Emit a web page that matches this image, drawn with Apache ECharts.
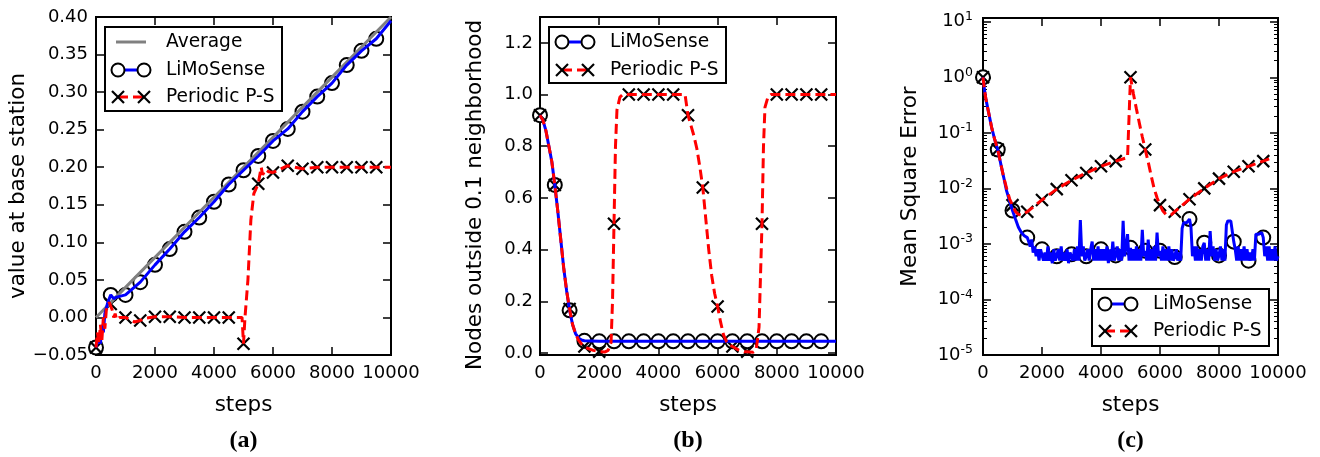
<!DOCTYPE html>
<html lang="en">
<head>
    <meta charset="UTF-8">
    <title>LiMoSense vs Periodic P-S</title>
    <script src="https://cdn.jsdelivr.net/npm/echarts@6/dist/echarts.min.js"></script>
</head>
<body style="margin:0;background:#fff">
<div id="myChart" style="width: 1320px;height: 457px;"></div>
<script>
    // (a) value at base station
    var stepsAvgA = [0, 1000, 2000, 3000, 4000, 5000, 6000, 7000, 8000, 9000, 10000];
    var avgA = [0, 0.04, 0.08, 0.12, 0.16, 0.20, 0.24, 0.28, 0.32, 0.36, 0.40];

    var stepsLmA = [0, 100, 150, 200, 250, 300, 400, 500, 600, 700, 800, 1000, 1500, 2000, 2500, 3000,
        3500, 4000, 4500, 5000, 5500, 6000, 6500, 7000, 7500, 8000, 8500, 9000, 9500, 10000];
    var lmA = [-0.04, -0.025, -0.035, -0.01, -0.02, 0.005, 0.02, 0.03, 0.025, 0.027, 0.028, 0.03, 0.047, 0.07, 0.091, 0.114,
        0.133, 0.154, 0.177, 0.196, 0.215, 0.235, 0.251, 0.274, 0.294, 0.312, 0.336, 0.355, 0.371, 0.395];

    var stepsPsA = [0, 50, 100, 150, 200, 250, 300, 350, 400, 450,
        500, 550, 600, 650, 700, 800, 1000, 1200, 1300, 1500,
        1700, 2000, 2500, 3000, 3500, 4000, 4500, 4950, 5000, 5050,
        5150, 5250, 5350, 5500, 5600, 5650, 5750, 5850, 6000, 6500,
        7000, 7500, 8000, 8500, 9000, 9500, 10000];
    var psA = [-0.04, -0.02, -0.035, -0.01, -0.03, 0.0, -0.015, 0.01, 0.015, 0.02,
        0.018, 0.01, 0.0, 0.005, -0.003, 0.0, 0.0, -0.004, -0.006, -0.004,
        -0.001, 0.001, 0.001, 0.0, 0.0, 0.0, 0.0, 0.0, -0.035, 0.0,
        0.05, 0.13, 0.165, 0.178, 0.2, 0.19, 0.197, 0.194, 0.193, 0.202,
        0.198, 0.2, 0.2, 0.2, 0.2, 0.2, 0.2];

    // (b) nodes outside 0.1 neighborhood
    var stepsLmB = [0, 100, 200, 300, 400, 500, 600, 700, 800, 900, 1000, 1100, 1200, 1300, 1400, 1500,
        2000, 2500, 3000, 3500, 4000, 4500, 5000, 5500, 6000, 6500, 7000, 7500, 8000, 8500, 9000, 9500, 10000];
    var lmB = [0.92, 0.9, 0.86, 0.8, 0.74, 0.65, 0.55, 0.44, 0.33, 0.24, 0.165, 0.11, 0.075, 0.058, 0.05, 0.047,
        0.045, 0.045, 0.045, 0.045, 0.045, 0.045, 0.045, 0.045, 0.045, 0.045, 0.045, 0.045, 0.045, 0.045, 0.045, 0.045, 0.045];

    var stepsPsB = [0, 100, 200, 300, 400, 500, 600, 700, 800, 900, 1000, 1100, 1200, 1300, 1400,
        1500, 1600, 1800, 2000, 2200, 2300, 2400, 2450, 2500, 2550,
        2600, 2700, 2800, 3000, 3500, 4000, 4500, 4900, 4950, 5000,
        5200, 5300, 5400, 5500, 5600, 5700, 5800, 5900, 6000, 6100,
        6200, 6300, 6400, 6500, 6700, 6900, 7000, 7200, 7300, 7400,
        7450, 7500, 7550, 7600, 7700, 7800, 8000, 8500, 9000, 9500,
        10000];
    var psB = [0.92, 0.9, 0.86, 0.8, 0.74, 0.65, 0.55, 0.44, 0.33, 0.24, 0.17, 0.11, 0.075, 0.05, 0.035,
        0.025, 0.018, 0.01, 0.005, 0.004, 0.01, 0.04, 0.2, 0.5, 0.8,
        0.94, 0.99, 1.0, 1.0, 1.0, 1.0, 1.0, 1.0, 0.96, 0.92,
        0.84, 0.79, 0.72, 0.64, 0.52, 0.4, 0.3, 0.23, 0.18, 0.12,
        0.07, 0.045, 0.03, 0.025, 0.012, 0.005, 0.005, 0.003, 0.01, 0.1,
        0.3, 0.5, 0.8, 0.95, 0.99, 1.0, 1.0, 1.0, 1.0, 1.0,
        1.0];

    // (c) mean square error (log)
    var stepsLmC = [0, 50, 100, 200, 300, 400, 500, 600, 700, 800, 900, 1000, 1100, 1200, 1300, 1400,
        1500, 1550, 1600, 1650, 1700, 1750, 1800, 1850, 1900, 1950,
        2000, 2050, 2100, 2150, 2200, 2250, 2300, 2350, 2400, 2450,
        2500, 2550, 2600, 2650, 2700, 2750, 2800, 2850, 2900, 2950,
        3000, 3050, 3100, 3150, 3200, 3250, 3300, 3350, 3400, 3450,
        3500, 3550, 3600, 3650, 3700, 3750, 3800, 3850, 3900, 3950,
        4000, 4050, 4100, 4150, 4200, 4250, 4300, 4350, 4400, 4450,
        4500, 4550, 4600, 4650, 4700, 4750, 4800, 4850, 4900, 4950,
        5000, 5050, 5100, 5150, 5200, 5250, 5300, 5350, 5400, 5450,
        5500, 5550, 5600, 5650, 5700, 5750, 5800, 5850, 5900, 5950,
        6000, 6050, 6100, 6150, 6200, 6250, 6300, 6350, 6400, 6450,
        6500, 6550, 6600, 6650, 6700, 6750, 6800, 6850, 6900, 6950,
        7000, 7050, 7100, 7150, 7200, 7250, 7300, 7350, 7400, 7450,
        7500, 7550, 7600, 7650, 7700, 7750, 7800, 7850, 7900, 7950,
        8000, 8050, 8100, 8150, 8200, 8250, 8300, 8350, 8400, 8450,
        8500, 8550, 8600, 8650, 8700, 8750, 8800, 8850, 8900, 8950,
        9000, 9050, 9100, 9150, 9200, 9250, 9300, 9350, 9400, 9450,
        9500, 9550, 9600, 9650, 9700, 9750, 9800, 9850, 9900, 9950,
        10000];
    var lmC = [1.0, 0.6, 0.4, 0.22, 0.12, 0.075, 0.05, 0.028, 0.016, 0.009, 0.006, 0.004, 0.0028, 0.002, 0.0016, 0.0014,
        0.0013, 0.0011, 0.0009, 0.0012, 0.0007, 0.0009, 0.0006, 0.0008, 0.0005, 0.0008,
        0.0008, 0.0005, 0.0007, 0.0005, 0.0009, 0.0005, 0.0007, 0.00045, 0.0008, 0.0005,
        0.0006, 0.0008, 0.0005, 0.0009, 0.0005, 0.0007, 0.0005, 0.0008, 0.00045, 0.0007,
        0.00065, 0.0005, 0.0008, 0.0005, 0.0009, 0.0005, 0.0027, 0.0006, 0.0009, 0.0005,
        0.0006, 0.0008, 0.0005, 0.0008, 0.0011, 0.0005, 0.0008, 0.0005, 0.0009, 0.0005,
        0.0008, 0.0005, 0.0008, 0.0005, 0.0009, 0.00045, 0.0008, 0.0005, 0.0011, 0.0005,
        0.00062, 0.0009, 0.0005, 0.0008, 0.0005, 0.0026, 0.0006, 0.0009, 0.0015, 0.0005,
        0.00085, 0.0005, 0.0008, 0.0005, 0.0009, 0.0005, 0.0008, 0.0005, 0.0018, 0.0006,
        0.00075, 0.0005, 0.0012, 0.0005, 0.0008, 0.0005, 0.0009, 0.0005, 0.0016, 0.0006,
        0.00075, 0.0005, 0.0009, 0.0005, 0.0008, 0.0005, 0.0009, 0.0005, 0.0008, 0.0005,
        0.00058, 0.0008, 0.0005, 0.0007, 0.0005, 0.0019, 0.0024, 0.0025, 0.0024, 0.0026,
        0.0028, 0.002, 0.0006, 0.0009, 0.0005, 0.0009, 0.0005, 0.0008, 0.0005, 0.0009,
        0.00105, 0.0005, 0.0008, 0.0005, 0.0017, 0.0006, 0.0009, 0.0005, 0.0008, 0.0005,
        0.00062, 0.0009, 0.0005, 0.0008, 0.0005, 0.0022, 0.0026, 0.0025, 0.0026, 0.0024,
        0.0011, 0.0008, 0.0005, 0.0009, 0.0005, 0.0008, 0.0005, 0.0009, 0.0005, 0.0008,
        0.0005, 0.0007, 0.0005, 0.0008, 0.0005, 0.0015, 0.0016, 0.0015, 0.0014, 0.0016,
        0.0013, 0.0006, 0.0009, 0.0005, 0.0009, 0.0005, 0.0008, 0.0005, 0.0009, 0.0005,
        0.0006];

    var stepsPsC = [0, 50, 100, 200, 300, 400, 500, 600, 700, 800, 900, 1000, 1100, 1200, 1300,
        1500, 2000, 2500, 3000, 3500, 4000, 4500, 4900, 4950, 5000,
        5100, 5200, 5300, 5400, 5500, 5600, 5700, 5800, 5900, 6000,
        6100, 6200, 6300, 6400, 6500, 7000, 7500, 8000, 8500, 9000,
        9500, 9700];
    var psC = [1.0, 0.6, 0.4, 0.22, 0.12, 0.075, 0.05, 0.028, 0.016, 0.01, 0.0065, 0.005, 0.0038, 0.0034, 0.0033,
        0.0038, 0.0062, 0.0097, 0.014, 0.019, 0.025, 0.031, 0.036, 0.038, 1.0,
        0.5, 0.27, 0.15, 0.085, 0.05, 0.03, 0.017, 0.01, 0.0068, 0.005,
        0.0039, 0.0034, 0.0033, 0.0034, 0.0038, 0.0064, 0.01, 0.015, 0.02, 0.025,
        0.031, 0.034];

    var ticksB = [0, 0.2, 0.4, 0.6, 0.8, 1.0, 1.2];
    var ticksC = [1e-5, 1e-4, 1e-3, 1e-2, 1e-1, 1, 10];

    var FONT = 'DejaVu Sans';
    var myChart = echarts.init(document.getElementById('myChart'));

    function pairs(xs, ys) {
        return xs.map(function (x, i) { return [x, ys[i]]; });
    }
    // markers every 500 steps, like markevery
    function marks(xs, ys) {
        return pairs(xs, ys).filter(function (p) { return p[0] % 500 === 0 && p[0] < 10000; });
    }

    var minorC = [];
    for (var e = -5; e <= 0; e++) {
        for (var m = 2; m <= 9; m++) minorC.push(+(m * Math.pow(10, e)).toPrecision(3));
    }

    var grids = [
        {left: 96, top: 17, width: 295, height: 338},
        {left: 540, top: 17, width: 296, height: 338},
        {left: 983, top: 18, width: 295, height: 337}
    ];
    grids.forEach(function (g) {
        g.show = true;
        g.borderColor = '#000';
        g.borderWidth = 2;
        g.backgroundColor = 'transparent';
    });

    var noLine = {show: false, onZero: false};
    var tickStyle = {show: true, inside: true, length: 8, lineStyle: {color: '#000', width: 1.5}};
    var labelStyle = {color: '#000', fontSize: 18, fontFamily: FONT};
    var nameStyle = {color: '#000', fontSize: 21.5, fontFamily: FONT};

    var xAxes = [];
    [0, 1, 2].forEach(function (i) {
        xAxes.push({
            gridIndex: i, type: 'value', position: 'bottom', min: 0, max: 10000, interval: 2000,
            axisLine: noLine, axisTick: tickStyle, splitLine: {show: false},
            axisLabel: Object.assign({margin: 9, formatter: function (v) { return String(v); }}, labelStyle),
            name: 'steps', nameLocation: 'middle', nameGap: 39, nameTextStyle: nameStyle
        });
        xAxes.push({
            gridIndex: i, type: 'value', position: 'top', min: 0, max: 10000, interval: 2000,
            axisLine: noLine, axisTick: tickStyle, splitLine: {show: false}, axisLabel: {show: false}
        });
    });

    var yAxes = [
        {
            gridIndex: 0, type: 'value', position: 'left', min: -0.05, max: 0.4, interval: 0.05,
            axisLine: noLine, axisTick: tickStyle, splitLine: {show: false},
            axisLabel: Object.assign({margin: 8, formatter: function (v) { return v.toFixed(2).replace('-', '\u2212'); }}, labelStyle),
            name: 'value at base station', nameLocation: 'middle', nameGap: 63, nameTextStyle: nameStyle
        },
        {
            gridIndex: 0, type: 'value', position: 'right', min: -0.05, max: 0.4, interval: 0.05,
            axisLine: noLine, axisTick: tickStyle, splitLine: {show: false}, axisLabel: {show: false}
        },
        {
            gridIndex: 1, type: 'value', position: 'left', min: -0.008, max: 1.3,
            axisLine: noLine, axisTick: Object.assign({customValues: ticksB}, tickStyle), splitLine: {show: false},
            axisLabel: Object.assign({margin: 7, customValues: ticksB, formatter: function (v) { return v.toFixed(1); }}, labelStyle),
            name: 'Nodes outside 0.1 neighborhood', nameLocation: 'middle', nameGap: 54,
            nameTextStyle: Object.assign({padding: [0, 18, 0, 0]}, nameStyle)
        },
        {
            gridIndex: 1, type: 'value', position: 'right', min: -0.008, max: 1.3,
            axisLine: noLine, axisTick: Object.assign({customValues: ticksB}, tickStyle), splitLine: {show: false},
            axisLabel: {show: false}
        },
        {
            gridIndex: 2, type: 'log', logBase: 10, position: 'left', min: 1e-5, max: 11.7,
            axisLine: noLine, axisTick: Object.assign({customValues: ticksC}, tickStyle), splitLine: {show: false},
            axisLabel: Object.assign({
                margin: 10, customValues: ticksC,
                formatter: function (v) { return '{b|10}{s|' + Math.round(Math.log10(v)) + '}'; },
                rich: {
                    b: {fontSize: 18, fontFamily: FONT, color: '#000'},
                    s: {fontSize: 12.5, fontFamily: FONT, color: '#000', padding: [0, 0, 10, 0]}
                }
            }, labelStyle),
            name: 'Mean Square Error', nameLocation: 'middle', nameGap: 62, nameTextStyle: nameStyle
        },
        {
            gridIndex: 2, type: 'log', logBase: 10, position: 'left', offset: 0, min: 1e-5, max: 11.7,
            axisLine: noLine, splitLine: {show: false}, axisLabel: {show: false},
            axisTick: {show: true, inside: true, length: 4, customValues: minorC, lineStyle: {color: '#000', width: 1}}
        },
        {
            gridIndex: 2, type: 'log', logBase: 10, position: 'right', min: 1e-5, max: 11.7,
            axisLine: noLine, axisTick: Object.assign({customValues: ticksC}, tickStyle), splitLine: {show: false},
            axisLabel: {show: false}
        },
        {
            gridIndex: 2, type: 'log', logBase: 10, position: 'right', offset: 0, min: 1e-5, max: 11.7,
            axisLine: noLine, splitLine: {show: false}, axisLabel: {show: false},
            axisTick: {show: true, inside: true, length: 4, customValues: minorC, lineStyle: {color: '#000', width: 1}}
        }
    ];

    var CROSS = 'path://M0,0L10,10M10,0L0,10';

    function lineSeries(xi, yi, data, color, dashed, width) {
        return {
            type: 'line', xAxisIndex: xi, yAxisIndex: yi, data: data, showSymbol: false,
            lineStyle: {color: color, width: width || 3, type: dashed ? [10, 5] : 'solid'},
            silent: true
        };
    }
    function circleSeries(xi, yi, data) {
        return {
            type: 'scatter', xAxisIndex: xi, yAxisIndex: yi, data: data, symbol: 'circle', symbolSize: 14,
            itemStyle: {color: '#fff', borderColor: '#000', borderWidth: 2, opacity: 1}, silent: true
        };
    }
    function crossSeries(xi, yi, data) {
        return {
            type: 'scatter', xAxisIndex: xi, yAxisIndex: yi, data: data, symbol: CROSS, symbolSize: 12,
            itemStyle: {color: 'none', borderColor: '#000', borderWidth: 2.2, opacity: 1}, silent: true
        };
    }

    var series = [
        lineSeries(0, 0, pairs(stepsAvgA, avgA), '#808080', false, 3),
        lineSeries(0, 0, pairs(stepsLmA, lmA), '#0000ff', false),
        circleSeries(0, 0, marks(stepsLmA, lmA)),
        lineSeries(0, 0, pairs(stepsPsA, psA), '#ff0000', true),
        crossSeries(0, 0, marks(stepsPsA, psA)),

        lineSeries(2, 2, pairs(stepsLmB, lmB), '#0000ff', false),
        circleSeries(2, 2, marks(stepsLmB, lmB)),
        lineSeries(2, 2, pairs(stepsPsB, psB), '#ff0000', true),
        crossSeries(2, 2, marks(stepsPsB, psB)),

        lineSeries(4, 4, pairs(stepsLmC, lmC), '#0000ff', false),
        circleSeries(4, 4, marks(stepsLmC, lmC)),
        lineSeries(4, 4, pairs(stepsPsC, psC), '#ff0000', true),
        crossSeries(4, 4, marks(stepsPsC, psC))
    ];

    // matplotlib style legend boxes, two markers per entry
    function legendBox(x, y, w, h, rows) {
        var els = [{type: 'rect', shape: {x: x, y: y, width: w, height: h},
            style: {fill: '#fff', stroke: '#000', lineWidth: 2}, z: 100}];
        rows.forEach(function (r) {
            var x1 = x + 13, x2 = x + 39;
            if (r.kind === 'avg') {
                els.push({type: 'line', shape: {x1: x + 11, y1: r.y, x2: x + 41, y2: r.y},
                    style: {stroke: '#808080', lineWidth: 3}, z: 101});
            } else {
                els.push({type: 'line', shape: {x1: x1, y1: r.y, x2: x2, y2: r.y},
                    style: {stroke: r.kind === 'lm' ? '#0000ff' : '#ff0000', lineWidth: 3,
                        lineDash: r.kind === 'lm' ? null : [10, 5]}, z: 101});
                [x1, x2].forEach(function (cx) {
                    if (r.kind === 'lm') {
                        els.push({type: 'circle', shape: {cx: cx, cy: r.y, r: 6.5},
                            style: {fill: '#fff', stroke: '#000', lineWidth: 2}, z: 102});
                    } else {
                        els.push({type: 'line', shape: {x1: cx - 6, y1: r.y - 6, x2: cx + 6, y2: r.y + 6},
                            style: {stroke: '#000', lineWidth: 2.2}, z: 102});
                        els.push({type: 'line', shape: {x1: cx - 6, y1: r.y + 6, x2: cx + 6, y2: r.y - 6},
                            style: {stroke: '#000', lineWidth: 2.2}, z: 102});
                    }
                });
            }
            els.push({type: 'text', x: x + 61, y: r.y, z: 102,
                style: {text: r.label, font: '18.6px "DejaVu Sans"', fill: '#000', verticalAlign: 'middle'}});
        });
        return els;
    }

    var graphics = []
        .concat(legendBox(105, 27, 177, 84, [
            {kind: 'avg', label: 'Average', y: 42},
            {kind: 'lm', label: 'LiMoSense', y: 70},
            {kind: 'ps', label: 'Periodic P-S', y: 97}
        ]))
        .concat(legendBox(549, 27, 177, 56, [
            {kind: 'lm', label: 'LiMoSense', y: 42},
            {kind: 'ps', label: 'Periodic P-S', y: 70}
        ]))
        .concat(legendBox(1092, 289, 177, 57, [
            {kind: 'lm', label: 'LiMoSense', y: 304},
            {kind: 'ps', label: 'Periodic P-S', y: 331}
        ]));

    [['(a)', 243.5], ['(b)', 688], ['(c)', 1130.5]].forEach(function (t) {
        graphics.push({type: 'text', x: t[1], y: 441,
            style: {text: t[0], font: 'bold 24px "Liberation Serif"', fill: '#000', align: 'center', verticalAlign: 'middle'}});
    });

    myChart.setOption({
        animation: false,
        backgroundColor: '#fff',
        grid: grids,
        xAxis: xAxes,
        yAxis: yAxes,
        series: series,
        graphic: graphics
    });
</script>
</body>
</html>
